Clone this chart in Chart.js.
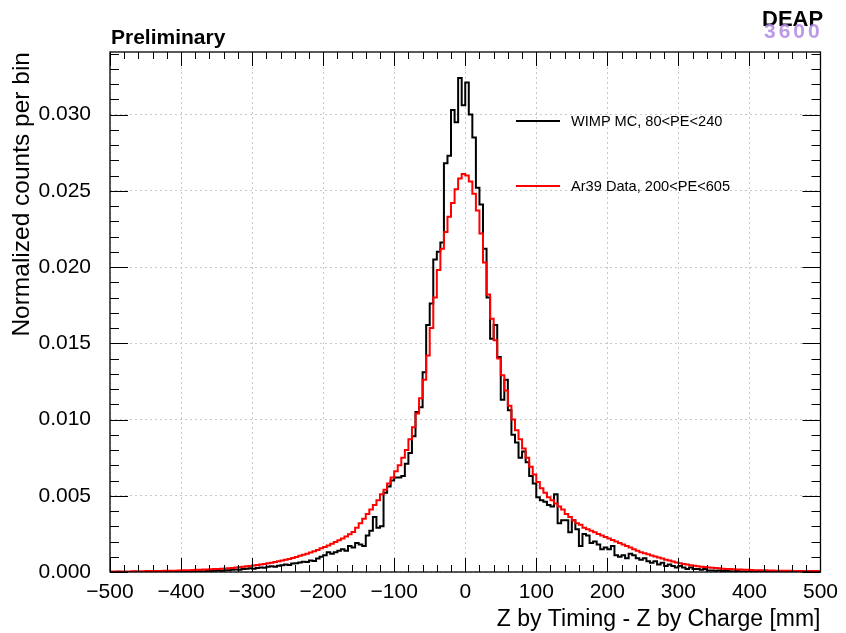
<!DOCTYPE html>
<html>
<head>
<meta charset="utf-8">
<script src="https://cdn.jsdelivr.net/npm/chart.js@4.4.1/dist/chart.umd.min.js"></script>
<style>
  html, body { margin: 0; padding: 0; background: #fff; }
  #wrap { position: relative; width: 846px; height: 633px; font-family: "Liberation Sans", Arial, Helvetica, sans-serif; }
  #c { position: absolute; left: 0; top: 0; }
  #prelim { position: absolute; left: 111px; top: 25px; font-size: 21px; font-weight: bold; color: #000; }
  #logo1 { position: absolute; left: 762px; top: 6px; font-size: 22px; font-weight: bold; color: #000; }
  #logo2 { position: absolute; left: 764px; top: 19px; font-size: 21px; font-weight: bold; color: #b48fe4; letter-spacing: 3px; opacity: 0.9; }
  .leg { position: absolute; left: 516px; height: 20px; display: flex; align-items: center; font-size: 14.6px; color: #000; }
  .leg i { display: inline-block; width: 44px; height: 2px; margin-right: 11px; }
</style>
</head>
<body>
<div id="wrap">
  <canvas id="c" width="846" height="633"></canvas>
  <div id="prelim">Preliminary</div>
  <div id="logo1">DEAP</div>
  <div id="logo2">3600</div>
  <div id="legend"></div>
</div>
<script>
// histogram binning: 200 bins of 5 mm from -500 to 500
const BIN_LO = -500;
const BIN_W = 5;

const xTicks = [-500, -400, -300, -200, -100, 0, 100, 200, 300, 400, 500];
const yTicks = [0, 0.005, 0.010, 0.015, 0.020, 0.025, 0.030];

const wimpLabel = "WIMP MC, 80<PE<240";
const ar39Label = "Ar39 Data, 200<PE<605";

// WIMP MC (black), one value per bin, left to right
const wimpCounts = [
  0,0,0,0.00001,0,0,0,0,0.00001,0,
  0,0.00001,0,0,0.00002,0,0.00001,0,0.00002,0.00001,
  0.00002,0.00001,0.00003,0.00002,0.00004,0.00003,0.00005,0.00004,0.00006,0.00007,
  0.00008,0.00010,0.00009,0.00012,0.00011,0.00014,0.00016,0.00015,0.00019,0.00021,
  0.00024,0.00022,0.00027,0.00030,0.00028,0.00034,0.00037,0.00035,0.00041,0.00045,
  0.00049,0.00046,0.00055,0.00058,0.00062,0.00068,0.00065,0.00075,0.00072,0.00088,
  0.00100,0.00110,0.00130,0.00120,0.00130,0.00140,0.00150,0.00140,0.00170,0.00160,
  0.00190,0.00180,0.00170,0.00240,0.00270,0.00360,0.00290,0.00300,0.00520,0.00560,
  0.00600,0.00620,0.00620,0.00630,0.00710,0.00780,0.00890,0.01050,0.01080,0.01310,
  0.01620,0.01760,0.02050,0.02100,0.02160,0.02680,0.02730,0.03030,0.02950,0.03240,
  0.03060,0.03210,0.03000,0.02850,0.02520,0.02410,0.02120,0.01800,0.01530,0.01620,
  0.01410,0.01130,0.01260,0.01060,0.00900,0.00850,0.00750,0.00790,0.00720,0.00630,
  0.00580,0.00490,0.00470,0.00460,0.00440,0.00430,0.00510,0.00320,0.00340,0.00340,
  0.00260,0.00340,0.00280,0.00170,0.00250,0.00240,0.00190,0.00200,0.00180,0.00150,
  0.00160,0.00150,0.00170,0.00110,0.00100,0.00110,0.00090,0.00120,0.00110,0.00090,
  0.00080,0.00090,0.00070,0.00060,0.00070,0.00050,0.00060,0.00040,0.00050,0.00040,
  0.00030,0.00040,0.00030,0.00020,0.00030,0.00020,0.00020,0.00015,0.00020,0.00010,
  0.00010,0.00008,0.00010,0.00006,0.00008,0.00005,0.00004,0.00006,0.00003,0.00004,
  0.00003,0.00006,0.00002,0.00003,0.00001,0.00002,0.00004,0.00001,0.00002,0.00001,
  0.00001,0,0.00002,0,0.00001,0,0,0.00001,0,0
];

// Ar39 data (red)
const ar39Counts = [
  0.00003,0.00003,0.00003,0.00004,0.00004,0.00004,0.00004,0.00005,0.00005,0.00005,
  0.00005,0.00006,0.00006,0.00006,0.00007,0.00007,0.00008,0.00008,0.00009,0.00009,
  0.00010,0.00011,0.00011,0.00012,0.00013,0.00014,0.00015,0.00016,0.00017,0.00018,
  0.00019,0.00020,0.00022,0.00023,0.00025,0.00027,0.00029,0.00031,0.00034,0.00037,
  0.00040,0.00043,0.00046,0.00050,0.00053,0.00057,0.00061,0.00066,0.00070,0.00075,
  0.00080,0.00086,0.00092,0.00099,0.00106,0.00113,0.00120,0.00128,0.00136,0.00145,
  0.00155,0.00164,0.00174,0.00185,0.00196,0.00208,0.00220,0.00233,0.00247,0.00262,
  0.00290,0.00320,0.00350,0.00380,0.00410,0.00440,0.00470,0.00510,0.00540,0.00580,
  0.00620,0.00660,0.00700,0.00750,0.00800,0.00870,0.00950,0.01040,0.01140,0.01260,
  0.01420,0.01600,0.01800,0.01980,0.02120,0.02230,0.02330,0.02420,0.02510,0.02580,
  0.02610,0.02600,0.02560,0.02480,0.02370,0.02220,0.02030,0.01820,0.01660,0.01520,
  0.01400,0.01290,0.01190,0.01090,0.01000,0.00930,0.00870,0.00810,0.00750,0.00690,
  0.00640,0.00590,0.00550,0.00520,0.00490,0.00470,0.00450,0.00430,0.00410,0.00380,
  0.00360,0.00340,0.00320,0.00310,0.00290,0.00280,0.00270,0.00260,0.00250,0.00240,
  0.00230,0.00220,0.00210,0.00200,0.00190,0.00180,0.00170,0.00160,0.00150,0.00140,
  0.00130,0.00123,0.00116,0.00109,0.00102,0.00095,0.00088,0.00081,0.00075,0.00069,
  0.00063,0.00058,0.00053,0.00049,0.00045,0.00041,0.00038,0.00035,0.00032,0.00030,
  0.00028,0.00026,0.00024,0.00022,0.00020,0.00019,0.00018,0.00017,0.00016,0.00015,
  0.00014,0.00013,0.00012,0.00012,0.00011,0.00011,0.00010,0.00010,0.00009,0.00009,
  0.00008,0.00008,0.00008,0.00007,0.00007,0.00007,0.00006,0.00006,0.00006,0.00006
];

const FONT = '"Liberation Sans", Arial, Helvetica, sans-serif';

// bin contents -> step points at bin edges
function histPoints(counts){
  const pts = counts.map((v, i) => ({ x: BIN_LO + i * BIN_W, y: v }));
  pts.push({ x: BIN_LO + counts.length * BIN_W, y: counts[counts.length - 1] });
  return pts;
}

function fmtMinus(v){
  return String(v).replace("-", "\u2212");
}

// ROOT style frame with inward ticks on all four sides
const frameTicks = {
  id: "frameTicks",
  afterDatasetsDraw(chart){
    const { ctx, chartArea: a, scales: { x, y } } = chart;
    ctx.save();
    ctx.strokeStyle = "#000";
    ctx.lineWidth = 1.3;
    ctx.strokeRect(a.left, a.top, a.right - a.left, a.bottom - a.top);
    ctx.lineWidth = 1;
    ctx.beginPath();
    const xMinor = 20;
    for (let v = xTicks[0]; v <= xTicks[xTicks.length - 1] + 1e-9; v += xMinor){
      const px = Math.round(x.getPixelForValue(v)) + 0.5;
      const len = xTicks.includes(v) ? 14 : 7;
      ctx.moveTo(px, a.bottom); ctx.lineTo(px, a.bottom - len);
      ctx.moveTo(px, a.top); ctx.lineTo(px, a.top + len);
    }
    const yMinor = 0.001;
    for (let k = 0; k * yMinor <= y.max + 1e-12; k++){
      const v = k * yMinor;
      const py = Math.round(y.getPixelForValue(v)) + 0.5;
      const len = (k % 5 === 0) ? 18 : 9;
      ctx.moveTo(a.left, py); ctx.lineTo(a.left + len, py);
      ctx.moveTo(a.right, py); ctx.lineTo(a.right - len, py);
    }
    ctx.stroke();
    ctx.restore();
  }
};

const chart = new Chart(document.getElementById("c"), {
  type: "line",
  data: {
    datasets: [
      {
        label: wimpLabel,
        data: histPoints(wimpCounts),
        borderColor: "#000000",
        borderWidth: 2,
        pointRadius: 0,
        stepped: "after",
        fill: false,
        order: 1,
      },
      {
        label: ar39Label,
        data: histPoints(ar39Counts),
        borderColor: "#ff0000",
        borderWidth: 2,
        pointRadius: 0,
        stepped: "after",
        fill: false,
        order: 0,
      }
    ]
  },
  options: {
    responsive: false,
    animation: false,
    layout: { padding: { left: 0, right: 21, top: 52, bottom: 0 } },
    plugins: {
      legend: { display: false },
      tooltip: { enabled: false },
    },
    scales: {
      x: {
        type: "linear",
        min: xTicks[0],
        max: xTicks[xTicks.length - 1],
        afterBuildTicks: (s) => { s.ticks = xTicks.map(v => ({ value: v })); },
        afterFit: (s) => { s.height = 61; },
        ticks: {
          color: "#000",
          font: { family: FONT, size: 21 },
          padding: 8,
          maxRotation: 0,
          callback: (v) => fmtMinus(v),
        },
        grid: { color: "#c8c8c8", lineWidth: 1, drawTicks: false },
        border: { display: false, dash: [2, 3] },
        title: {
          display: true,
          text: "Z by Timing - Z by Charge [mm]",
          align: "end",
          color: "#000",
          font: { family: FONT, size: 23 },
          padding: { top: 0, bottom: 0 },
        },
      },
      y: {
        type: "linear",
        min: 0,
        max: 0.0341,
        afterBuildTicks: (s) => { s.ticks = yTicks.map(v => ({ value: v })); },
        afterFit: (s) => { s.width = 110; },
        ticks: {
          color: "#000",
          font: { family: FONT, size: 21 },
          padding: 19,
          callback: (v) => Number(v).toFixed(3),
        },
        grid: { color: "#c8c8c8", lineWidth: 1, drawTicks: false },
        border: { display: false, dash: [2, 3] },
        title: {
          display: true,
          text: "Normalized counts per bin",
          align: "end",
          color: "#000",
          font: { family: FONT, size: 24.5 },
          padding: { top: 8, bottom: 0 },
        },
      }
    }
  },
  plugins: [frameTicks]
});

// legend inside the frame, built from the datasets
const legendBox = document.getElementById("legend");
const legendTops = [111, 176];
chart.data.datasets.forEach((ds, i) => {
  const row = document.createElement("div");
  row.className = "leg";
  row.style.top = legendTops[i] + "px";
  const sw = document.createElement("i");
  sw.style.background = ds.borderColor;
  row.appendChild(sw);
  row.appendChild(document.createTextNode(ds.label));
  legendBox.appendChild(row);
});
</script>
</body>
</html>
